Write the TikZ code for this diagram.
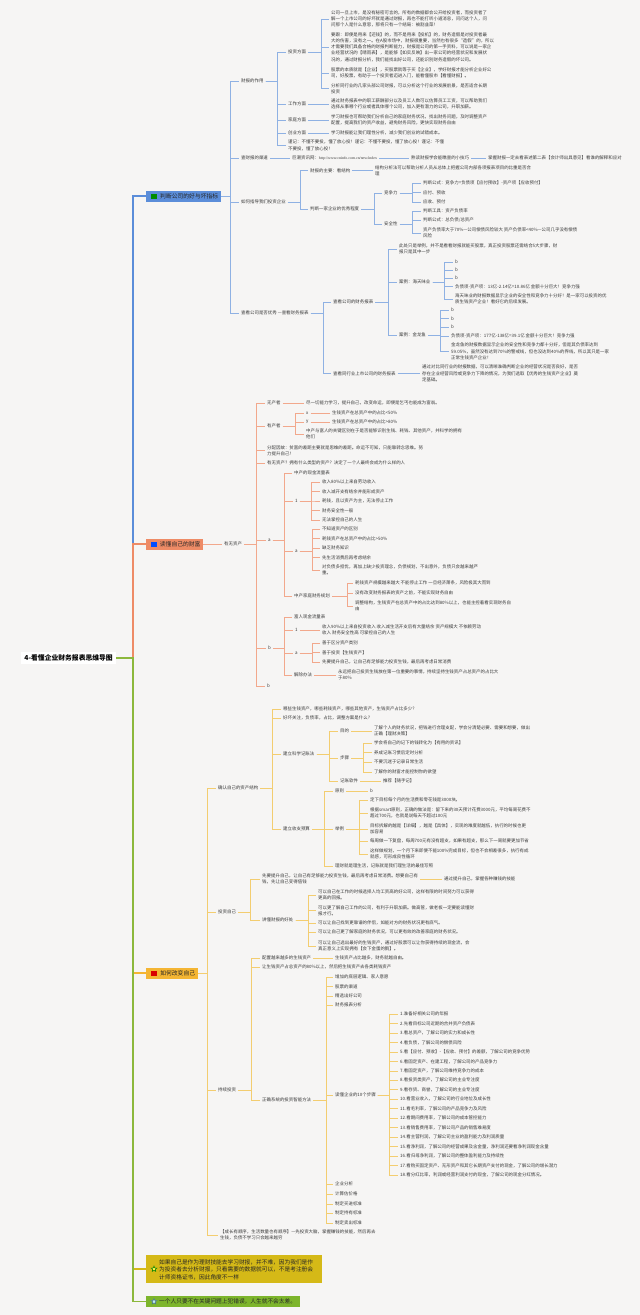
\documentclass[tikz,border=0pt]{standalone}
\usepackage{fontspec}
\setmainfont{Noto Sans CJK SC}
\newfontfamily\urlfont{Liberation Serif}
\usetikzlibrary{shapes.geometric}
\definecolor{bg}{HTML}{F6F5F4}
\definecolor{txt}{HTML}{3A3A3A}
\definecolor{bM}{HTML}{5B8DD9}
\definecolor{bL}{HTML}{8FB1E3}
\definecolor{oM}{HTML}{EE8B66}
\definecolor{oL}{HTML}{F2A88C}
\definecolor{yM}{HTML}{F4B533}
\definecolor{yL}{HTML}{F3CD70}
\definecolor{gM}{HTML}{8CB83C}
\definecolor{olv}{HTML}{D5B917}
\definecolor{grn}{HTML}{7DB52C}
\newcommand\fs{\fontsize{4.45}{6.3}\selectfont}
\newcommand\ek[4]{\draw[#1] (#2.east) -- (#2.east -| #3) |- (#4.west);}
\newcommand\sk[3]{\draw[#1] (#2.east) -- (#3.west);}
\tikzset{
  t/.style={anchor=west, inner xsep=2pt, inner ysep=0.6pt, font=\fs, text=txt, align=left},
  bx/.style={anchor=west, minimum height=11pt, inner xsep=2pt, inner ysep=0pt, font=\fontsize{5.8}{7}\selectfont, text=black!85},
  rootbox/.style={anchor=east, fill=white, inner xsep=3pt, inner ysep=2.5pt, font=\fontsize{6.8}{8}\selectfont\bfseries, text=black},
  mline/.style={line width=1.2pt},
  l1/.style={draw=bL, line width=0.6pt},
  l2/.style={draw=oL, line width=0.6pt},
  l3/.style={draw=yL, line width=0.6pt},
  starmark/.style={star, star points=5, star point ratio=2.3, minimum size=6pt, inner sep=0pt, line width=0.5pt},
}
\begin{document}
\begin{tikzpicture}[x=1pt,y=-1pt]
\fill[bg] (0,0) rectangle (640,1315);
\useasboundingbox (0,0) rectangle (640,1315);

% ---------- root and main branches ----------
\coordinate (tm) at (133,0);
\node[rootbox] (root) at (116,658) {4-看懂企业财务报表思维导图};
\node[bx, fill=bM, minimum width=75pt] (b1) at (146,196) {\hspace{11pt}判断公司的好与坏指标};
\node[bx, fill=oM, minimum width=57pt] (b2) at (146,544) {\hspace{11pt}读懂自己的财富};
\node[bx, fill=yM, minimum width=52pt] (b3) at (146,973) {\hspace{11pt}如何改变自己};
\fill[green!55!black] (150.5,193.5) rectangle (156.5,198.5);
\fill[blue!70!cyan] (150.5,541.5) rectangle (156.5,546.5);
\fill[red!85!black] (150.5,970.5) rectangle (156.5,975.5);
\node[anchor=west, fill=olv, minimum width=176pt, minimum height=28pt, inner sep=0pt] (y1) at (146,1269) {};
\node[anchor=west, inner sep=0pt, align=left, font=\fontsize{5.7}{7.6}\selectfont, text=black!85] (y1t) at (159,1269.5) {如果自己是作为理财技能去学习财报，并不难，因为我们是作\\为投资者去分析财报，只看需要的数据就可以，不是考注册会\\计师资格证书，因此角度不一样};
\node[starmark, draw=green!50!black, fill=yellow!70] (y1s) at (154,1269) {};
\node[anchor=west, fill=grn, minimum width=154pt, minimum height=11pt, inner sep=0pt] (g1) at (146,1301.5) {};
\node[anchor=west, inner sep=0pt, font=\fontsize{5.7}{7}\selectfont, text=black!85] (g1t) at (159,1301.5) {一个人只要不在关键问题上犯错误，人生就不会太差。};
\node[starmark, draw=cyan!50!black, fill=cyan!25] (g1s) at (154,1301.5) {};

\ek{mline, draw=bM}{root}{tm}{b1}
\ek{mline, draw=oM}{root}{tm}{b2}
\ek{mline, draw=yM}{root}{tm}{b3}
\ek{mline, draw=olv}{root}{tm}{y1}
\ek{mline, draw=gM}{root}{tm}{g1}

% ---------- branch 1 ----------
\coordinate (T1) at (230,0);
\node[t] (n11) at (239,81) {财报的作用};
\node[t] (n12) at (239,158) {查财报的渠道};
\node[t] (n13) at (239,202) {如何指导我们投资企业};
\node[t] (n14) at (239,313) {查看公司是否优秀 —查看财务报表};
\foreach \c in {n11,n12,n13,n14} {\ek{l1}{b1}{T1}{\c}}

\coordinate (T11) at (277,0);
\node[t] (n111) at (286,52) {投资方面};
\node[t] (n112) at (286,104) {工作方面};
\node[t] (n113) at (286,120) {家庭方面};
\node[t] (n114) at (286,133) {创业方面};
\node[t] (n115) at (286,145.5) {谨记：不懂不要投，懂了放心投！谨记：不懂不要投，懂了放心投！谨记：不懂\\不要投，懂了放心投！};
\foreach \c in {n111,n112,n113,n114,n115} {\ek{l1}{n11}{T11}{\c}}

\coordinate (T111) at (321,0);
\node[t] (a1) at (329,19) {公司一旦上市，是没有秘密可言的，所有的数据都会公开给投资者，而投资者了\\解一个上市公司的好坏就是通过财报，再也不能打听小道消息，问问这个人，问\\问那个人是什么意思，那将只有一个结局：被割韭菜！};
\node[t] (a2) at (329,47) {要跟：即便是用来【还钱】的，而不是用来【投机】的，财务造假是对投资者最\\大的伤害，没有之一。在A股市场中，财报很重要，当然也有很多“造假”的，所以\\才需要我们具备合格的财报判断能力，财报是公司的第一手资料，可以说是一家企\\业经营状况的【晴雨表】，是能够【如实反映】出一家公司的经营状况和发展状\\况的，通过财报分析，我们能找出好公司，还能识别财务造假的坏公司。};
\node[t] (a3) at (329,73) {股票的本质就是【企业】，买股票就等于买【企业】，学好财报才能分析企业好公\\司，好股票，有助于一个投资者迈进入门，能看懂股市【看懂财报】。};
\node[t] (a4) at (329,88.5) {分析同行业的几家头部公司财报，可以分析这个行业的发展前景，是否适合长期\\投资};
\foreach \c in {a1,a2,a3,a4} {\ek{l1}{n111}{T111}{\c}}
\node[t] (w1) at (329,104) {通过财务报表中的职工薪酬部分以及员工人数可以估算员工工资，可以帮助我们\\选择从事哪个行业或者具体哪个公司，加入更有潜力的公司，升职加薪。};
\node[t] (h1) at (329,120) {学习财报也可帮助我们分析自己的家庭财务状况，找出财务问题，及时调整资产\\配置，提高我们的资产收益，避免财务风险，更快实现财务自由};
\node[t] (c1) at (329,133) {学习财报能让我们理性分析，减少我们创业的试错成本。};
\sk{l1}{n112}{w1}
\sk{l1}{n113}{h1}
\sk{l1}{n114}{c1}

\node[t] (q1) at (290,158) {巨潮资讯网：{\urlfont\fontsize{3.9}{5}\selectfont http://www.cninfo.com.cn/new/index}};
\node[t] (q2) at (409,158) {熟读财报学会能瞧查的小技巧};
\node[t] (q3) at (486,158) {掌握财报一定去看表述第二表【会计师出具意见】看谁的解释和应对};
\sk{l1}{n12}{q1}
\sk{l1}{q1}{q2}
\sk{l1}{q2}{q3}

\coordinate (T13) at (300,0);
\node[t] (s1) at (308,170.5) {财报的主要：看结构};
\node[t] (s1c) at (373,170.5) {结构分析法可以帮助分析人员从总体上把握公司内部各项报表项目的比重是否合\\理};
\node[t] (s2) at (308,209) {判断一家企业的优秀程度};
\ek{l1}{n13}{T13}{s1}
\ek{l1}{n13}{T13}{s2}
\sk{l1}{s1}{s1c}
\coordinate (T132) at (374,0);
\node[t] (s21) at (382,193) {竞争力};
\node[t] (s22) at (382,224) {安全性};
\ek{l1}{s2}{T132}{s21}
\ek{l1}{s2}{T132}{s22}
\coordinate (T1321) at (412,0);
\node[t] (s211) at (421,183) {判断公式：竞争力=负债项【应付预收】-资产项【应收预付】};
\node[t] (s212) at (421,192.5) {应付、预收};
\node[t] (s213) at (421,202) {应收、预付};
\node[t] (s221) at (421,211) {判断工具：资产负债率};
\node[t] (s222) at (421,220.5) {判断公式：总负债/总资产};
\node[t] (s223) at (421,233) {资产负债率大于70\%—公司偿债风险较大 资产负债率<40\%—公司几乎没有偿债\\风险};
\foreach \c in {s211,s212,s213} {\ek{l1}{s21}{T1321}{\c}}
\foreach \c in {s221,s222,s223} {\ek{l1}{s22}{T1321}{\c}}

\coordinate (T14) at (323,0);
\node[t] (r1) at (331,302) {查看公司的财务报表};
\node[t] (r2) at (331,373.5) {查看同行业上市公司的财务报表};
\ek{l1}{n14}{T14}{r1}
\ek{l1}{n14}{T14}{r2}
\node[t] (r2c) at (420,373.5) {通过对比同行业的财报数据，可以清晰准确判断企业的经营状况是否良好，是否\\存在企业经营风险或竞争力下降的情况，为我们选取【优秀的生钱资产企业】奠\\定基础。};
\sk{l1}{r2}{r2c}
\coordinate (T141) at (388,0);
\node[t] (r11) at (397,249) {此处只是举例，并不是看看财报就能买股票，真正投资股票还需结合5大步骤，财\\报只是其中一步};
\node[t] (r12) at (397,282) {案例：海天味业};
\node[t] (r13) at (397,335) {案例：金龙鱼};
\foreach \c in {r11,r12,r13} {\ek{l1}{r1}{T141}{\c}}
\coordinate (T142) at (444,0);
\node[t] (r121) at (453,262) {b};
\node[t] (r122) at (453,270) {b};
\node[t] (r123) at (453,278) {b};
\node[t] (r124) at (453,286.5) {负债项-资产项：13亿-2.14亿=10.86亿 金额十分巨大！竞争力强};
\node[t] (r125) at (453,299) {海天味业的财报数据显示企业的安全性和竞争力十分好！是一家可以投资的优\\质生钱资产企业！看好它的后续发展。};
\foreach \c in {r121,r122,r123,r124,r125} {\ek{l1}{r12}{T142}{\c}}
\coordinate (T143) at (440,0);
\node[t] (r131) at (449,310) {b};
\node[t] (r132) at (449,318.5) {b};
\node[t] (r133) at (449,327) {b};
\node[t] (r134) at (449,336) {负债项-资产项：177亿-138亿=39.1亿 金额十分巨大！竞争力强};
\node[t] (r135) at (449,351.5) {金龙鱼的财报数据显示企业的安全性和竞争力都十分好，但是其负债率达到\\59.05\%，虽然没有达到70\%的警戒线，但也没达到40\%的界线，所以其只是一家\\正常生钱资产企业！};
\foreach \c in {r131,r132,r133,r134,r135} {\ek{l1}{r13}{T143}{\c}}

% ---------- branch 2 ----------
\node[t] (p0) at (222,544) {有无资产};
\sk{l2}{b2}{p0}
\coordinate (T2) at (256,0);
\node[t] (p1) at (265,403) {无产者};
\node[t] (p2) at (265,426) {有产者};
\node[t] (p3) at (265,450.5) {分配因故：贫富的差距主要就是思维的差距。命运不可知，只能靠转念思维。努\\力提升自己！};
\node[t] (p4) at (265,463) {有无资产？拥有什么类型的资产？决定了一个人最终会成为什么样的人};
\node[t] (p5) at (266,540) {a};
\node[t] (p6) at (266,648) {b};
\node[t] (p7) at (265,686) {b};
\foreach \c in {p1,p2,p3,p4,p5,p6,p7} {\ek{l2}{p0}{T2}{\c}}
\node[t] (p1c) at (304,403) {尽一切能力学习，提升自己，改变命运，即便是乞丐也能成为富翁。};
\sk{l2}{p1}{p1c}
\coordinate (T22) at (295,0);
\node[t] (p21) at (304,413) {x};
\node[t] (p22) at (304,422) {y};
\node[t] (p23) at (304,434) {中产与富人的关键区别在于是否能够识别生钱、耗钱、其他资产，并科学的拥有\\他们};
\foreach \c in {p21,p22,p23} {\ek{l2}{p2}{T22}{\c}}
\node[t] (p21c) at (330,413) {生钱资产在总资产中的占比<50\%};
\node[t] (p22c) at (330,422) {生钱资产在总资产中的占比>80\%};
\sk{l2}{p21}{p21c}
\sk{l2}{p22}{p22c}

\coordinate (T25) at (284,0);
\node[t] (p51) at (292,473) {中产的现金流量表};
\node[t] (p52) at (293,501) {1};
\node[t] (p53) at (293,551) {a};
\node[t] (p54) at (292,596) {中产家庭财务规划};
\foreach \c in {p51,p52,p53,p54} {\ek{l2}{p5}{T25}{\c}}
\coordinate (T252) at (311,0);
\node[t] (p521) at (320,482) {收入80\%以上来自劳动收入};
\node[t] (p522) at (320,491.5) {收入减开支有结余并能形成资产};
\node[t] (p523) at (320,501) {耗钱，且以资产为主，无法停止工作};
\node[t] (p524) at (320,510.5) {财务安全性一般};
\node[t] (p525) at (320,520) {无法掌控自己的人生};
\foreach \c in {p521,p522,p523,p524,p525} {\ek{l2}{p52}{T252}{\c}}
\coordinate (T253) at (312,0);
\node[t] (p531) at (320,529) {不知道资产的区别};
\node[t] (p532) at (320,538.5) {耗钱资产在总资产中的占比>50\%};
\node[t] (p533) at (320,548) {缺乏财务知识};
\node[t] (p534) at (320,557.5) {先生活消费后再考虑结余};
\node[t] (p535) at (320,570) {对负债多担忧，再加上缺少投资理念，负债规划，不出意外，负债只会越来越严\\重。};
\foreach \c in {p531,p532,p533,p534,p535} {\ek{l2}{p53}{T253}{\c}}
\coordinate (T254) at (347,0);
\node[t] (p541) at (353,583) {耗钱资产规模越来越大 不能停止工作 一旦经济萧条，风险极其大而到};
\node[t] (p542) at (353,593) {没有改变财务报表的资产之前，不能实现财务自由};
\node[t] (p543) at (353,606) {调整结构，生钱资产在总资产中的占比达到80\%以上，也能主控着看实现财务自\\由};
\foreach \c in {p541,p542,p543} {\ek{l2}{p54}{T254}{\c}}

\node[t] (p61) at (292,617) {富人现金流量表};
\node[t] (p62) at (293,630) {1};
\node[t] (p63) at (293,653) {a};
\node[t] (p64) at (292,675) {解除办法};
\foreach \c in {p61,p62,p63,p64} {\ek{l2}{p6}{T25}{\c}}
\node[t] (p62c) at (320,630) {收入90\%以上来自投资收入 收入减生活开支后有大量结余 资产规模大 不依赖劳动\\收入 财务安全性高 可掌控自己的人生};
\sk{l2}{p62}{p62c}
\node[t] (p631) at (320,643) {善于区分资产类别};
\node[t] (p632) at (320,652.5) {善于投资【生钱资产】};
\node[t] (p633) at (320,662) {先要提升自己，让自己有足够能力投资生钱，最后再考虑日常消费};
\foreach \c in {p631,p632,p633} {\ek{l2}{p63}{T253}{\c}}
\node[t] (p64c) at (336,675) {永远把自己投资生钱放在第一位重要的事情，持续坚持生钱资产占总资产的占比大\\于80\%};
\sk{l2}{p64}{p64c}

% ---------- branch 3 ----------
\coordinate (T3) at (207,0);
\node[t] (k1) at (216,788) {确认自己的资产结构};
\node[t] (k2) at (216,912) {投资自己};
\node[t] (k3) at (216,1090) {持续投资};
\node[t] (k4) at (218,1235) {【成长有顺序，生活数量也有顺序】—先投资大脑，掌握赚钱的技能，然后再去\\生钱，负债不学习只会越来越穷};
\foreach \c in {k1,k2,k3,k4} {\ek{l3}{b3}{T3}{\c}}

\coordinate (T31) at (272,0);
\node[t] (k11) at (281,709) {哪些生钱资产，哪些耗钱资产，哪些其他资产，生钱资产占比多少？};
\node[t] (k12) at (281,718) {好坏关注，负债率，占比，调整方案是什么？};
\node[t] (k13) at (281,754) {建立科学记账法};
\node[t] (k14) at (281,829) {建立收支预算};
\foreach \c in {k11,k12,k13,k14} {\ek{l3}{k1}{T31}{\c}}
\coordinate (T313) at (329,0);
\node[t] (k131) at (338,731) {目的};
\node[t] (k132) at (338,758) {步骤};
\node[t] (k133) at (338,781) {记账软件};
\foreach \c in {k131,k132,k133} {\ek{l3}{k13}{T313}{\c}}
\node[t] (k131c) at (372,731) {了解个人的财务状况，把钱进行合理支配，学会分清楚必要、需要和想要，做出\\正确【理财决策】};
\sk{l3}{k131}{k131c}
\coordinate (T3132) at (363,0);
\node[t] (k1321) at (372,743) {学会将自己的记下的钱转化为【有用的资讯】};
\node[t] (k1322) at (372,752.5) {养成记账习惯后定时分析};
\node[t] (k1323) at (372,762) {不要沉迷于记录日常生活};
\node[t] (k1324) at (372,772) {了解你的财富才能控制你的欲望};
\foreach \c in {k1321,k1322,k1323,k1324} {\ek{l3}{k132}{T3132}{\c}}
\node[t] (k133c) at (381,781) {推荐【随手记】};
\sk{l3}{k133}{k133c}
\coordinate (T314) at (324,0);
\node[t] (k141) at (333,791) {原则};
\node[t] (k142) at (333,829) {举例};
\node[t] (k143) at (333,866) {理财就是理生活，记账就是我们理生活的最佳写照};
\foreach \c in {k141,k142,k143} {\ek{l3}{k14}{T314}{\c}}
\node[t] (k141c) at (368,791) {b};
\sk{l3}{k141}{k141c}
\coordinate (T3142) at (359,0);
\node[t] (k1421) at (368,800) {定下目标每个月的生活费和零花钱是3000块。};
\node[t] (k1422) at (368,813) {根据smart原则，正确的做法是：留下来的30天预计花费3000元，平均每周花费不\\超过700元，也就是说每天不超过100元};
\node[t] (k1423) at (368,829) {目标拆解的越是【详细】，越是【具体】，实现的难度就越低，执行的时候也更\\加容易};
\node[t] (k1424) at (368,841) {每周做一下复盘，每周700元有没有超支，如果有超支，那么下一周就要更加节省};
\node[t] (k1425) at (368,854) {这样做规划，一个月下来即便不能100\%完成目标，但也不会相差很多，执行有成\\就感，可形成良性循环};
\foreach \c in {k1421,k1422,k1423,k1424,k1425} {\ek{l3}{k142}{T3142}{\c}}

\coordinate (T32) at (250,0);
\node[t] (k21) at (260,879) {先要提升自己，让自己有足够能力投资生钱，最后再考虑日常消费。想要自己有\\钱，先让自己变得值钱};
\node[t] (k22) at (260,920) {讲懂财报的好处};
\ek{l3}{k2}{T32}{k21}
\ek{l3}{k2}{T32}{k22}
\node[t] (k21c) at (442,879) {通过提升自己，掌握各种赚钱的技能};
\sk{l3}{k21}{k21c}
\coordinate (T322) at (308,0);
\node[t] (k221) at (316,895) {可以自己在工作的时候选择人均工资高的好公司，这样有限的时间努力可以获得\\更高的回报。};
\node[t] (k222) at (316,910.5) {可以更了解自己工作的公司，有利于升职加薪。做高管，做老板一定要能读懂财\\报才行。};
\node[t] (k223) at (316,923) {可以让自己找到更靠谱的伴侣，如能对方的财务状况更有底气。};
\node[t] (k224) at (316,932) {可以让自己更了解家庭的财务状况，可以更有效的改善家庭的财务状况。};
\node[t] (k225) at (316,946) {可以让自己选出最好的生钱资产，通过好股票可以让你获得持续的现金流，会\\真正意义上实现拥有【会下金蛋的鹅】。};
\foreach \c in {k221,k222,k223,k224,k225} {\ek{l3}{k22}{T322}{\c}}

\coordinate (T33) at (251,0);
\node[t] (k31) at (260,958) {配置越来越多的生钱资产};
\node[t] (k32) at (260,967) {让生钱资产占总资产的80\%以上，然后把生钱资产去各类耗钱资产};
\node[t] (k33) at (260,1100) {正确系统的投资智能方法};
\foreach \c in {k31,k32,k33} {\ek{l3}{k3}{T33}{\c}}
\node[t] (k31c) at (333,958) {生钱资产占比越多，财务就越自由。};
\sk{l3}{k31}{k31c}
\coordinate (T333) at (326,0);
\node[t] (k331) at (333,977) {增加的底层逻辑、家人意愿};
\node[t] (k332) at (333,986.5) {股票的渠道};
\node[t] (k333) at (333,996) {精选出好公司};
\node[t] (k334) at (333,1005) {财务报表分析};
\node[t] (k335) at (333,1095) {读懂企业的10个步骤};
\node[t] (k336) at (333,1184) {企业分析};
\node[t] (k337) at (333,1194) {计算估价格};
\node[t] (k338) at (333,1204) {制定买进标准};
\node[t] (k339) at (333,1213) {制定持有标准};
\node[t] (k3310) at (333,1223) {制定卖出标准};
\foreach \c in {k331,k332,k333,k334,k335,k336,k337,k338,k339,k3310} {\ek{l3}{k33}{T333}{\c}}
\coordinate (T3335) at (389,0);
\foreach \s [count=\i] in {
 {1.准备好相关公司的年报},
 {2.先看目标公司近期的合并资产负债表},
 {3.看总资产，了解公司的实力和成长性},
 {4.看负债，了解公司的偿债风险},
 {5.看【应付、预收】-【应收、预付】的差额，了解公司的竞争优势},
 {6.看固定资产、在建工程，了解公司的产品竞争力},
 {7.看固定资产，了解公司维持竞争力的成本},
 {8.看投资类资产，了解公司的主业专注度},
 {9.看存货、商誉，了解公司的主业专注度},
 {10.看营业收入，了解公司的行业地位及成长性},
 {11.看毛利率，了解公司的产品竞争力及风险},
 {12.看期间费用率，了解公司的成本管控能力},
 {13.看销售费用率，了解公司产品的销售难易度},
 {14.看主营利润，了解公司主业的盈利能力及利润质量},
 {15.看净利润，了解公司的经营成果及含金量，净利润还要看净利润现金含量},
 {16.看归母净利润，了解公司的整体盈利能力及持续性},
 {17.看购买固定资产、无形资产和其它长期资产支付的现金，了解公司的增长潜力},
 {18.看分红比率，利润或经营利润支付的现金，了解公司的现金分红情况。}} {
  \node[t] (st\i) at (398,{1014+(\i-1)*9.47}) {\s};
  \ek{l3}{k335}{T3335}{st\i}
}
\end{tikzpicture}
\end{document}
